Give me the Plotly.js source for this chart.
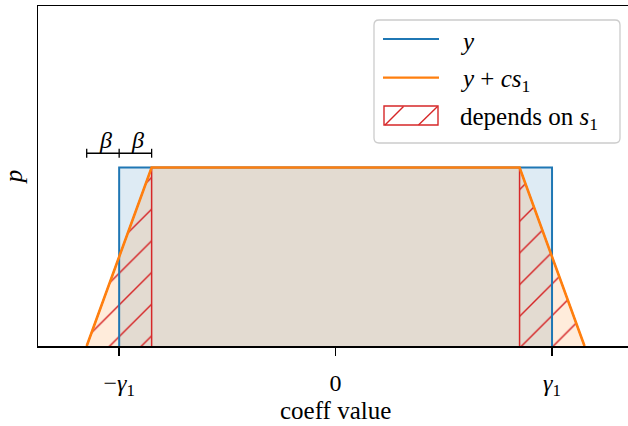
<!DOCTYPE html>
<html>
<head>
<meta charset="utf-8">
<script src="https://cdn.plot.ly/plotly-3.0.1.min.js"></script>
<style>html,body{margin:0;padding:0;background:#fff;}#chart{width:628px;height:426px;}</style>
</head>
<body>
<div id="chart"></div>
<script>
// ---- data ----
const yX = [-1, -1, 1, 1];
const yP = [0, 1, 1, 0];
const ycsX = [-1.15, -0.85, 0.85, 1.15];
const ycsP = [0, 1, 1, 0];
const hatchLeftX = [-1.15, -0.85, -0.85];
const hatchLeftP = [0, 1, 0];
const hatchRightX = [0.85, 0.85, 1.15];
const hatchRightP = [0, 1, 0];
const tickVals = [-1, 0, 1];
const tickText = ['\u2212<i>\u03b3</i><sub>1</sub>', '0', '<i>\u03b3</i><sub>1</sub>'];
const bracketX = [-1.15, -1, -0.85];
const bracketLabels = ['<i>\u03b2</i>', '<i>\u03b2</i>'];
const legendNames = ['<i>y</i>', '<i>y</i> + <i>cs</i><sub>1</sub>', 'depends on <i>s</i><sub>1</sub>'];
const xTitle = 'coeff value';

const BLUE = '#1f77b4', ORANGE = '#ff7f0e', RED = '#d62728';
const FONT = 'Liberation Serif';
const FS = 24;

// plot area geometry in pixels (for legend placement)
const L = 38, T = 6, W = 590, H = 340;
const px = v => (v - L) / W;
const py = v => (T + H - v) / H;

const hatchPattern = {shape: '/', size: 22.4, solidity: 0.065, fgcolor: RED, bgcolor: 'rgba(0,0,0,0)', fillmode: 'replace'};

const traces = [
  {x: yX, y: yP, mode: 'none', fill: 'toself', fillcolor: 'rgba(31,119,180,0.15)', hoverinfo: 'skip'},
  {x: ycsX, y: ycsP, mode: 'none', fill: 'toself', fillcolor: 'rgba(255,127,14,0.15)', hoverinfo: 'skip'},
  {x: hatchLeftX, y: hatchLeftP, mode: 'lines', fill: 'toself', fillcolor: 'rgba(0,0,0,0)',
   fillpattern: hatchPattern, line: {color: RED, width: 1.5}, hoverinfo: 'skip'},
  {x: hatchRightX, y: hatchRightP, mode: 'lines', fill: 'toself', fillcolor: 'rgba(0,0,0,0)',
   fillpattern: hatchPattern, line: {color: RED, width: 1.5}, hoverinfo: 'skip'},
  {x: yX, y: yP, mode: 'lines', line: {color: BLUE, width: 2.0}, hoverinfo: 'skip'},
  {x: ycsX, y: ycsP, mode: 'lines', line: {color: ORANGE, width: 2.6}, hoverinfo: 'skip'}
];

const shapes = [];
const annotations = [];

// bracket for beta
const yb = 1.08, tk = 0.025;
shapes.push({type: 'line', xref: 'x', yref: 'y', x0: bracketX[0], x1: bracketX[2], y0: yb, y1: yb, line: {color: 'black', width: 1.3}});
bracketX.forEach(bx => shapes.push({type: 'line', xref: 'x', yref: 'y', x0: bx, x1: bx, y0: yb - tk, y1: yb + tk, line: {color: 'black', width: 1.3}}));
for (let i = 0; i < 2; i++) {
  annotations.push({xref: 'x', yref: 'y', x: (bracketX[i] + bracketX[i + 1]) / 2 + 0.01, y: 1.155, text: bracketLabels[i],
    showarrow: false, xanchor: 'center', yanchor: 'middle', font: {family: FONT, size: FS, color: 'black'}});
}

// x-axis title as annotation
annotations.push({xref: 'x', yref: 'paper', x: 0, y: py(410.5), text: xTitle, showarrow: false,
  xanchor: 'center', yanchor: 'middle', font: {family: FONT, size: FS + 1, color: 'black'}});

// legend (drawn manually to match rounded frame)
const bx0 = 374, bx1 = 620, by0 = 20, by1 = 143, r = 5;
const rx = r / W, ry = r / H;
const X0 = px(bx0), X1 = px(bx1), Y0 = py(by0), Y1 = py(by1);
shapes.push({type: 'path', xref: 'paper', yref: 'paper',
  path: `M${X0 + rx},${Y0} L${X1 - rx},${Y0} Q${X1},${Y0} ${X1},${Y0 - ry} L${X1},${Y1 + ry} Q${X1},${Y1} ${X1 - rx},${Y1} L${X0 + rx},${Y1} Q${X0},${Y1} ${X0},${Y1 + ry} L${X0},${Y0 - ry} Q${X0},${Y0} ${X0 + rx},${Y0} Z`,
  fillcolor: 'rgba(255,255,255,0.8)', line: {color: '#cccccc', width: 1.3}});
const rowY = [39, 77.7, 115.5];
shapes.push({type: 'line', xref: 'paper', yref: 'paper', x0: px(383), x1: px(439), y0: py(rowY[0]), y1: py(rowY[0]), line: {color: BLUE, width: 2.2}});
shapes.push({type: 'line', xref: 'paper', yref: 'paper', x0: px(383), x1: px(439), y0: py(rowY[1]), y1: py(rowY[1]), line: {color: ORANGE, width: 2.2}});
shapes.push({type: 'rect', xref: 'paper', yref: 'paper', x0: px(384), x1: px(438), y0: py(106), y1: py(125), line: {color: RED, width: 1.4}, fillcolor: 'rgba(0,0,0,0)'});
shapes.push({type: 'line', xref: 'paper', yref: 'paper', x0: px(385), x1: px(403.5), y0: py(125), y1: py(106.5), line: {color: RED, width: 1.4}});
shapes.push({type: 'line', xref: 'paper', yref: 'paper', x0: px(418.5), x1: px(437.5), y0: py(125), y1: py(106.5), line: {color: RED, width: 1.4}});
const textY = [42, 80, 118];
for (let i = 0; i < 3; i++) {
  annotations.push({xref: 'paper', yref: 'paper', x: px(458), y: py(textY[i]), text: legendNames[i], showarrow: false,
    xanchor: 'left', yanchor: 'middle', font: {family: FONT, size: FS + 1, color: 'black'}});
}

const layout = {
  width: 628, height: 426,
  margin: {l: L, r: 0, t: T, b: 426 - T - H, pad: 0},
  paper_bgcolor: 'white', plot_bgcolor: 'white',
  showlegend: false,
  font: {family: FONT, color: 'black', size: FS},
  xaxis: {
    range: [-1.375, 1.351], tickvals: tickVals, ticktext: tickText,
    ticks: 'outside', ticklen: 8, tickwidth: 1.5, tickcolor: 'black', ticklabelstandoff: 7,
    showline: true, linecolor: 'black', linewidth: 1.5, mirror: true,
    showgrid: false, zeroline: false, automargin: false,
    tickfont: {family: FONT, size: FS, color: 'black'}
  },
  yaxis: {
    range: [0, 1.905], showticklabels: false, ticks: '',
    showline: true, linecolor: 'black', linewidth: 1.5,
    showgrid: false, zeroline: false, automargin: false,
    title: {text: '<i>p</i>', font: {family: FONT, size: FS + 1, color: 'black'}, standoff: 7}
  },
  shapes: shapes,
  annotations: annotations
};

Plotly.newPlot('chart', traces, layout, {displayModeBar: false, staticPlot: true});
</script>
</body>
</html>
